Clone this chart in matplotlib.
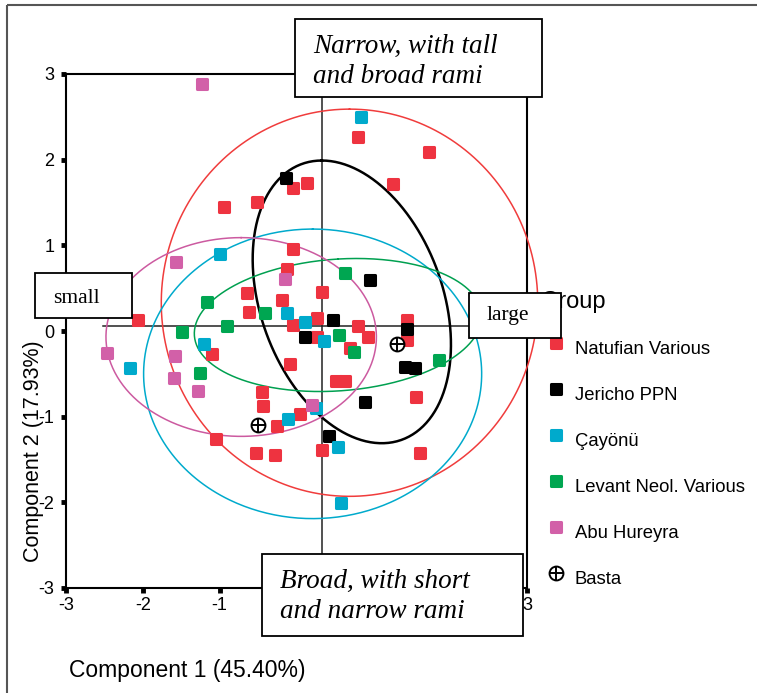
import matplotlib
matplotlib.use('Agg')
import matplotlib.pyplot as plt
import numpy as np
from matplotlib.markers import MarkerStyle
from matplotlib.patches import Rectangle

plt.rcParams['axes.unicode_minus'] = False
plt.rcParams['font.family'] = ['Liberation Sans', 'DejaVu Sans']

# ---------------- data ----------------
groups = ['Natufian Various', 'Jericho PPN', 'Çayönü', 'Levant Neol. Various', 'Abu Hureyra', 'Basta']
colors = ['#EE3340', '#000000', '#00AACC', '#00A651', '#D260A8', '#000000']
ell_colors = ['#F03C3C', '#000000', '#00AACC', '#00A050', '#CC5AA0']

natufian_x = [-2.06, 0.80, 1.72, 1.26, 0.14, -0.05, -0.94, -0.51, -0.05, -0.12, -0.64, -0.62,
              -0.19, 0.33, -0.05, 0.27, 0.27, 0.80, 0.93, 1.44, 1.44, -1.10, -0.08, 0.51,
              0.63, -0.45, -0.44, -0.25, 0.05, -1.05, -0.53, -0.28, 0.33, 1.56, 1.61, 0.70]
natufian_y = [0.13, 2.26, 2.09, 1.72, 1.73, 1.67, 1.45, 1.51, 0.96, 0.72, 0.44, 0.22,
              0.36, 0.46, 0.07, 0.15, -0.07, 0.06, -0.07, 0.13, -0.11, -0.27, -0.39, -0.58,
              -0.58, -0.71, -0.88, -1.11, -0.97, -1.26, -1.42, -1.45, -1.39, -0.77, -1.42, -0.20]

jericho_x = [-0.14, 0.96, 0.48, 1.44, 0.11, 1.41, 1.54, 0.89, 0.42]
jericho_y = [1.79, 0.60, 0.13, 0.02, -0.07, -0.42, -0.43, -0.83, -1.23]

cayonu_x = [0.84, -1.00, -0.12, 0.11, 0.36, -1.20, -2.17, -0.11, 0.25, 0.54, 0.58]
cayonu_y = [2.50, 0.90, 0.21, 0.11, -0.12, -0.15, -0.43, -1.03, -0.90, -1.35, -2.01]

levant_x = [-1.16, -0.90, -1.49, -0.41, 0.63, 0.55, 0.75, -1.26, 1.85]
levant_y = [0.34, 0.06, -0.01, 0.21, 0.68, -0.05, -0.25, -0.49, -0.34]

abu_x = [-1.23, -1.57, -0.15, -2.47, -1.58, -1.59, -1.28, 0.20]
abu_y = [2.88, 0.81, 0.61, -0.26, -0.29, -0.55, -0.70, -0.86]

basta_x = [1.31, -0.50]
basta_y = [-0.15, -1.10]

# ellipses: centre (cx, cy), conjugate semi-diameters P=(px,py), Q=(qx,qy)
ell_cx = [0.69, 0.72, 0.21, 0.54, -0.72]
ell_cy = [0.33, 0.34, -0.50, 0.07, -0.07]
ell_px = [0.00, -0.39, 0.00, 0.00, 0.00]
ell_py = [2.26, 1.65, 1.69, 0.77, 1.16]
ell_qx = [2.45, 1.23, 2.20, 1.87, 1.76]
ell_qy = [0.00, 0.00, 0.00, 0.10, 0.00]

ticks = [-3, -2, -1, 0, 1, 2, 3]
tick_labels = ['-3', '-2', '-1', '0', '1', '2', '3']
ref_x = 0.33
ref_y = 0.06

# ---------------- figure ----------------
W, H = 757, 693
fig = plt.figure(figsize=(W / 100, H / 100), dpi=100)
ax = fig.add_axes([66 / W, 105 / H, 461 / W, 514 / H])
ax.set_xlim(-3, 3)
ax.set_ylim(-3, 3)
ax.set_xticks(ticks)
ax.set_xticklabels(tick_labels)
ax.set_yticks(ticks)
ax.set_yticklabels(tick_labels)
ax.tick_params(direction='out', length=3.5, width=3.5, labelsize=13, color='black')
ax.tick_params(axis='x', pad=3)
ax.tick_params(axis='y', pad=5)
for s in ax.spines.values():
    s.set_linewidth(1.5)
    s.set_color('black')

# reference cross
ax.plot([-2.52, 2.6], [ref_y, ref_y], color='#222222', lw=1.1, zorder=2)
ax.plot([ref_x, ref_x], [-3, 3], color='#222222', lw=1.1, zorder=2)

# ellipses
t = np.linspace(0, 2 * np.pi, 400)
for i in range(5):
    ex = ell_cx[i] + ell_px[i] * np.cos(t) + ell_qx[i] * np.sin(t)
    ey = ell_cy[i] + ell_py[i] * np.cos(t) + ell_qy[i] * np.sin(t)
    ax.plot(ex, ey, color=ell_colors[i], lw=1.8 if i == 1 else 1.1, zorder=3, clip_on=False)

sq = MarkerStyle('s', joinstyle='round')


def rsq(axis, xs, ys, c, z):
    sc = axis.scatter(xs, ys, s=50, marker=sq, color=c, edgecolors=c,
                      linewidths=2.2, zorder=z, clip_on=False)
    sc.set_joinstyle('round')
    return sc


series = [(natufian_x, natufian_y), (jericho_x, jericho_y), (cayonu_x, cayonu_y),
          (levant_x, levant_y), (abu_x, abu_y)]
for i, (xs, ys) in enumerate(series):
    rsq(ax, xs, ys, colors[i], 4)
ax.scatter(basta_x, basta_y, s=100, marker='o', facecolors='white', edgecolors='black',
           linewidths=1.4, zorder=5)
ax.scatter(basta_x, basta_y, s=100, marker='+', color='black', linewidths=1.4, zorder=6)

# ---------------- overlay (labels, legend, boxes) ----------------
lax = fig.add_axes([0, 0, 1, 1], zorder=5)
lax.set_xlim(0, W)
lax.set_ylim(H, 0)
lax.axis('off')

# outer frame
lax.plot([7, W], [5, 5], color='#555555', lw=1.5, solid_capstyle='butt')
lax.plot([7, 7], [5, H], color='#555555', lw=1.5, solid_capstyle='butt')

# axis labels
lax.text(187, 670, 'Component 1 (45.40%)', ha='center', va='center', fontsize=16.5)
lax.text(34, 451, 'Component 2 (17.93%)', ha='center', va='center', rotation=90, fontsize=15.5)

# legend
lax.text(541, 308, 'Group', ha='left', va='baseline', fontsize=17, zorder=2)
for i, g in enumerate(groups):
    my = 343 + 46 * i
    if i < 5:
        rsq(lax, [556], [my], colors[i], 3)
    else:
        lax.scatter([556], [my], s=100, marker='o', facecolors='white', edgecolors='black',
                    linewidths=1.4, zorder=3)
        lax.scatter([556], [my], s=100, marker='+', color='black', linewidths=1.4, zorder=4)
    lax.text(575, my + 7, g, ha='left', va='center', fontsize=13.3, zorder=3)

# annotation boxes
boxes = [((295, 19, 247, 78), [(313, 53, 'Narrow, with tall'), (313, 83, 'and broad rami')], True, 19.5),
         ((262, 554, 261, 82), [(280, 588, 'Broad, with short'), (280, 618, 'and narrow rami')], True, 19.5),
         ((35, 273, 97, 45), [(53, 303, 'small')], False, 15.5),
         ((469, 293, 92, 45), [(487, 320, 'large')], False, 15.5)]
for (bx, by, bw, bh), lines, ital, fs in boxes:
    lax.add_patch(Rectangle((bx, by), bw, bh, facecolor='white', edgecolor='black',
                            lw=1.3, zorder=6))
    for tx, ty, txt in lines:
        lax.text(tx, ty, txt, ha='left', va='baseline', fontsize=fs,
                 family='Liberation Serif', style='italic' if ital else 'normal', zorder=7)

fig.savefig('out.png', dpi=100)
